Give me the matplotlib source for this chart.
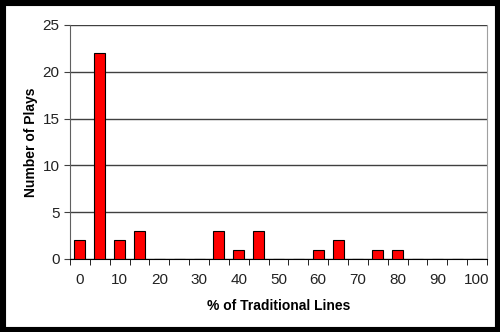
import matplotlib
matplotlib.use('Agg')
import matplotlib.pyplot as plt
from matplotlib.patches import Rectangle
import numpy as np


# Histogram data: percent of traditional lines (bins) and number of plays
bins = [0, 5, 10, 15, 20, 25, 30, 35, 40, 45, 50, 55, 60, 65, 70, 75, 80, 85, 90, 95, 100]
plays = [2, 22, 2, 3, 0, 0, 0, 3, 1, 3, 0, 0, 1, 2, 0, 1, 1, 0, 0, 0, 0]
y_ticks = [0, 5, 10, 15, 20, 25]

plt.rcParams['font.family'] = ['Liberation Sans', 'DejaVu Sans']

fig = plt.figure(figsize=(5, 3.32), dpi=100)
ax = fig.add_axes([70 / 500, 1 - 259 / 332, 417 / 500, 234 / 332])

x = np.arange(len(bins))
ax.bar(x, plays, width=0.55, color='#ff0000', edgecolor='black', linewidth=0.8, zorder=3)

ax.set_xlim(-0.5, len(bins) - 0.5)
ax.set_ylim(0, 25)
ax.set_yticks(y_ticks)
ax.yaxis.grid(True, color='#404040', linewidth=1.0)
ax.set_axisbelow(True)

# labels every other bin, ticks on bin boundaries
ax.set_xticks(x[::2])
ax.set_xticklabels([str(b) for b in bins[::2]])
ax.set_xticks(np.arange(len(bins) + 1) - 0.5, minor=True)
ax.tick_params(axis='x', which='major', length=0, pad=10, labelsize=11, colors='#222222')
ax.tick_params(axis='x', which='minor', length=4, direction='out', color='black')
ax.tick_params(axis='y', length=4, labelsize=11, colors='#222222', color='#404040')

ax.spines['top'].set_visible(False)
ax.spines['left'].set_color('#606060')
ax.spines['right'].set_color('#a0a0a0')
ax.spines['bottom'].set_color('black')

ax.set_xlabel('% of Traditional Lines', fontsize=10, fontweight='bold', labelpad=9)
ax.set_ylabel('Number of Plays', fontsize=10, fontweight='bold', labelpad=3)

# black frame around the picture
fig.patches.append(Rectangle((0, 0), 1, 1, transform=fig.transFigure, fill=False,
                             edgecolor='black', linewidth=8))

fig.savefig('out.png', dpi=100)
